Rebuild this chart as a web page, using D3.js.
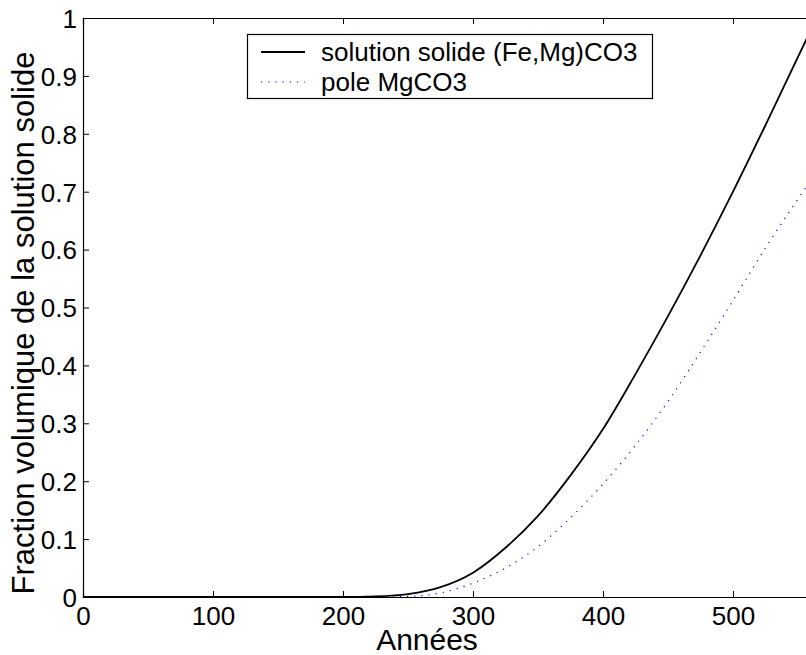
<!DOCTYPE html>
<html>
<head>
<meta charset="utf-8">
<script src="https://cdn.jsdelivr.net/npm/d3@7"></script>
<style>
  html, body { margin: 0; padding: 0; background: #fff; }
  svg { display: block; }
  text { font-family: "Liberation Sans", Arial, sans-serif; fill: #000; }
</style>
</head>
<body>
<svg id="chart" width="806" height="655"></svg>
<script>
// Data
const years      = [0, 50, 100, 150, 200, 225, 250, 275, 300, 325, 350, 375, 400, 425, 450, 475, 500, 525, 560];
const solidSol   = [0, 0, 0, 0, 0, 0.001, 0.005, 0.017, 0.042, 0.085, 0.14, 0.21, 0.29, 0.385, 0.485, 0.59, 0.70, 0.815, 0.98];
const poleMgCO3  = [0, 0, 0, 0, 0, 0, 0.001, 0.007, 0.024, 0.05, 0.087, 0.137, 0.195, 0.262, 0.338, 0.423, 0.512, 0.603, 0.72];
const xTicks     = [0, 100, 200, 300, 400, 500];
const yTicks     = [0, 0.1, 0.2, 0.3, 0.4, 0.5, 0.6, 0.7, 0.8, 0.9, 1];
const seriesNames = ["solution solide (Fe,Mg)CO3", "pole MgCO3"];
const xLabel = "Années";
const yLabel = "Fraction volumique de la solution solide";

const svg = d3.select("#chart");
const mLeft = 83, mTop = 18, mBottom = 597, mRight = 863;

const x = d3.scaleLinear().domain([0, 600]).range([mLeft, mRight]);
const y = d3.scaleLinear().domain([0, 1]).range([mBottom, mTop]);

svg.append("defs").append("clipPath").attr("id", "plotclip")
  .append("rect").attr("x", mLeft).attr("y", mTop).attr("width", mRight - mLeft).attr("height", mBottom - mTop);

const fs = 26;

// Axes (ticks inward)
const xAxisB = svg.append("g").attr("transform", `translate(0,${mBottom})`)
  .call(d3.axisBottom(x).tickValues(xTicks).tickSize(-6).tickPadding(10).tickFormat(d3.format("d")));
const xAxisT = svg.append("g").attr("transform", `translate(0,${mTop})`)
  .call(d3.axisTop(x).tickValues(xTicks).tickSize(-6).tickFormat(""));
const yAxisL = svg.append("g").attr("transform", `translate(${mLeft},0)`)
  .call(d3.axisLeft(y).tickValues(yTicks).tickSize(-6).tickPadding(6).tickFormat(d => d === 0 || d === 1 ? d3.format("d")(d) : d3.format(".1f")(d)));

[xAxisB, xAxisT, yAxisL].forEach(g => {
  g.select(".domain").attr("stroke", "#000").attr("stroke-width", 1.2);
  g.selectAll(".tick line").attr("stroke", "#000").attr("stroke-width", 1);
  g.selectAll("text").attr("font-size", fs).attr("font-family", "Liberation Sans, Arial, sans-serif").attr("fill", "#000");
});
xAxisB.selectAll(".tick text").attr("dy", "0.71em");
yAxisL.selectAll(".tick text").attr("dy", "0.36em");

// Lines
const plot = svg.append("g").attr("clip-path", "url(#plotclip)");
const line = (vals) => d3.line()
  .x((d, i) => x(years[i]))
  .y(d => y(d))
  .curve(d3.curveMonotoneX)(vals);

plot.append("path").attr("d", line(poleMgCO3))
  .attr("fill", "none").attr("stroke", "#0000ff").attr("stroke-width", 1.2)
  .attr("stroke-dasharray", "1.2,6");
plot.append("path").attr("d", line(solidSol))
  .attr("fill", "none").attr("stroke", "#000").attr("stroke-width", 1.8);

// Axis labels
svg.append("text").attr("x", 427).attr("y", 650).attr("text-anchor", "middle")
  .attr("font-size", 30).text(xLabel);
svg.append("text").attr("transform", `translate(34,323) rotate(-90)`).attr("text-anchor", "middle")
  .attr("font-size", 31).text(yLabel);

// Legend
const lg = svg.append("g");
lg.append("rect").attr("x", 247.5).attr("y", 34.5).attr("width", 405).attr("height", 64)
  .attr("fill", "#fff").attr("stroke", "#000").attr("stroke-width", 1.2);
const rows = [
  { name: seriesNames[0], stroke: "#000", dash: null, w: 1.8, yy: 52 },
  { name: seriesNames[1], stroke: "#0000ff", dash: "1.2,6", w: 1.2, yy: 82 }
];
rows.forEach(r => {
  lg.append("line").attr("x1", 261).attr("x2", 305).attr("y1", r.yy).attr("y2", r.yy)
    .attr("stroke", r.stroke).attr("stroke-width", r.w).attr("stroke-dasharray", r.dash);
  lg.append("text").attr("x", 321).attr("y", r.yy).attr("dy", "0.35em")
    .attr("font-size", fs).text(r.name);
});
</script>
</body>
</html>
